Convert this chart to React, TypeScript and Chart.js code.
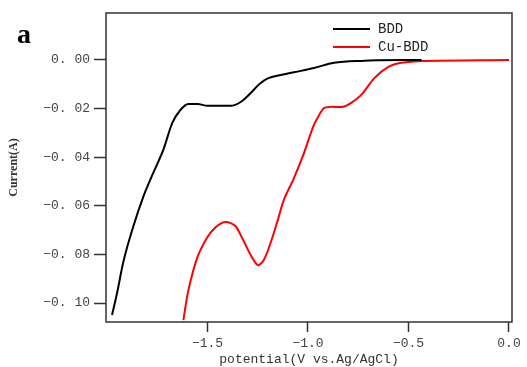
import React, { useEffect, useRef } from "react";
import { Chart, registerables } from "chart.js";
Chart.register(...registerables);

const bddX = [-1.975, -1.95, -1.92, -1.87, -1.82, -1.77, -1.72, -1.675, -1.635, -1.595, -1.55, -1.5, -1.385, -1.335, -1.285, -1.24, -1.2, -1.135, -1.035, -0.97, -0.87, -0.735, -0.435];
const bddY = [-0.1049, -0.0959, -0.0835, -0.0687, -0.0564, -0.0465, -0.037, -0.0259, -0.0206, -0.0181, -0.0181, -0.0189, -0.0189, -0.0173, -0.0136, -0.0098, -0.0076, -0.0062, -0.0045, -0.0033, -0.0012, -0.0004, 0.0];
const cuX = [-1.62, -1.595, -1.55, -1.5, -1.46, -1.43, -1.41, -1.385, -1.36, -1.32, -1.29, -1.25, -1.22, -1.185, -1.15, -1.12, -1.07, -1.02, -0.975, -0.95, -0.92, -0.885, -0.825, -0.785, -0.735, -0.67, -0.6, -0.535, -0.435, 0.0];
const cuY = [-0.107, -0.0947, -0.0811, -0.0728, -0.0688, -0.0671, -0.0667, -0.0671, -0.0684, -0.0745, -0.0795, -0.0844, -0.0823, -0.075, -0.0658, -0.0576, -0.0486, -0.0383, -0.0276, -0.0235, -0.0198, -0.0193, -0.0193, -0.0177, -0.0144, -0.0075, -0.0029, -0.0012, -0.0004, 0.0];
const xTicks = [-1.5, -1.0, -0.5, 0.0];
const xTickLabels = ["\u22121.5", "\u22121.0", "\u22120.5", "0.0"];
const yTicks = [0, -0.02, -0.04, -0.06, -0.08, -0.1];
const yTickLabels = ["0. 00", "\u22120. 02", "\u22120. 04", "\u22120. 06", "\u22120. 08", "\u22120. 10"];
const seriesNames = ["BDD", "Cu-BDD"];
const seriesColors = ["#000000", "#ff0000"];
const panelLabel = "a";
const xTitle = "potential(V vs.Ag/AgCl)";
const yTitle = "Current(A)";

const MONO = "'Liberation Mono', 'DejaVu Sans Mono', monospace";

const decorPlugin = {
  id: "decor",
  afterDraw(chart: any) {
    const { ctx, chartArea } = chart;
    ctx.save();
    ctx.strokeStyle = "#333";
    ctx.lineWidth = 1.5;
    ctx.strokeRect(chartArea.left, chartArea.top, chartArea.right - chartArea.left, chartArea.bottom - chartArea.top);
    ctx.fillStyle = "#000";
    ctx.font = "bold 28px 'Liberation Serif', serif";
    ctx.textBaseline = "alphabetic";
    ctx.fillText(panelLabel, 17, 43);
    ctx.font = "14px " + MONO;
    ctx.textBaseline = "middle";
    const rows = [29, 47];
    seriesNames.forEach((n, i) => {
      ctx.strokeStyle = seriesColors[i];
      ctx.lineWidth = 2;
      ctx.beginPath();
      ctx.moveTo(333, rows[i]);
      ctx.lineTo(370, rows[i]);
      ctx.stroke();
      ctx.fillStyle = "#222";
      ctx.fillText(n, 378, rows[i]);
    });
    ctx.restore();
  },
};

export default function App() {
  const ref = useRef<HTMLCanvasElement>(null);
  useEffect(() => {
    const chart = new Chart(ref.current as HTMLCanvasElement, {
      type: "scatter",
      data: {
        datasets: [
          {
            label: seriesNames[0],
            data: bddX.map((x, i) => ({ x, y: bddY[i] })),
            showLine: true,
            borderColor: seriesColors[0],
            borderWidth: 2,
            pointRadius: 0,
            cubicInterpolationMode: "monotone",
          },
          {
            label: seriesNames[1],
            data: cuX.map((x, i) => ({ x, y: cuY[i] })),
            showLine: true,
            borderColor: seriesColors[1],
            borderWidth: 2,
            pointRadius: 0,
            tension: 0.3,
          },
        ],
      },
      options: {
        animation: false,
        responsive: false,
        maintainAspectRatio: false,
        layout: { padding: { left: 0, right: 15, top: 13, bottom: 0 } },
        plugins: { legend: { display: false }, tooltip: { enabled: false } },
        scales: {
          x: {
            type: "linear",
            min: -2.005,
            max: 0.015,
            afterFit: (s: any) => { s.height = 45; },
            afterBuildTicks: (s: any) => { s.ticks = xTicks.map((v) => ({ value: v })); },
            ticks: {
              autoSkip: false,
              maxRotation: 0,
              padding: 4,
              color: "#444",
              font: { family: MONO, size: 13 },
              callback: (v: any) => xTickLabels[xTicks.findIndex((t) => Math.abs(t - v) < 1e-9)],
            },
            grid: { drawOnChartArea: false, drawTicks: true, tickLength: 10, color: "#333", tickWidth: 1.5 },
            border: { display: false },
            title: { display: true, text: xTitle, color: "#333", font: { family: MONO, size: 13 }, padding: { top: 0, bottom: 0 } },
          },
          y: {
            type: "linear",
            min: -0.1078,
            max: 0.0193,
            afterFit: (s: any) => { s.width = 106; },
            afterBuildTicks: (s: any) => { s.ticks = yTicks.map((v) => ({ value: v })); },
            ticks: {
              autoSkip: false,
              padding: 4,
              color: "#444",
              font: { family: MONO, size: 13 },
              callback: (v: any) => yTickLabels[yTicks.findIndex((t) => Math.abs(t - v) < 1e-9)],
            },
            grid: { drawOnChartArea: false, drawTicks: true, tickLength: 12, color: "#333", tickWidth: 1.5 },
            border: { display: false },
            title: { display: true, text: yTitle, color: "#333", font: { family: "'Liberation Serif', serif", size: 12, weight: "bold" }, padding: { top: 7, bottom: 0 } },
          },
        },
      },
      plugins: [decorPlugin],
    });
    return () => chart.destroy();
  }, []);
  return (
    <div style={{ position: "fixed", left: 0, top: 0, width: 527, height: 367, background: "#fff" }}>
      <canvas ref={ref} width={527} height={367} style={{ width: 527, height: 367, display: "block" }} />
    </div>
  );
}
